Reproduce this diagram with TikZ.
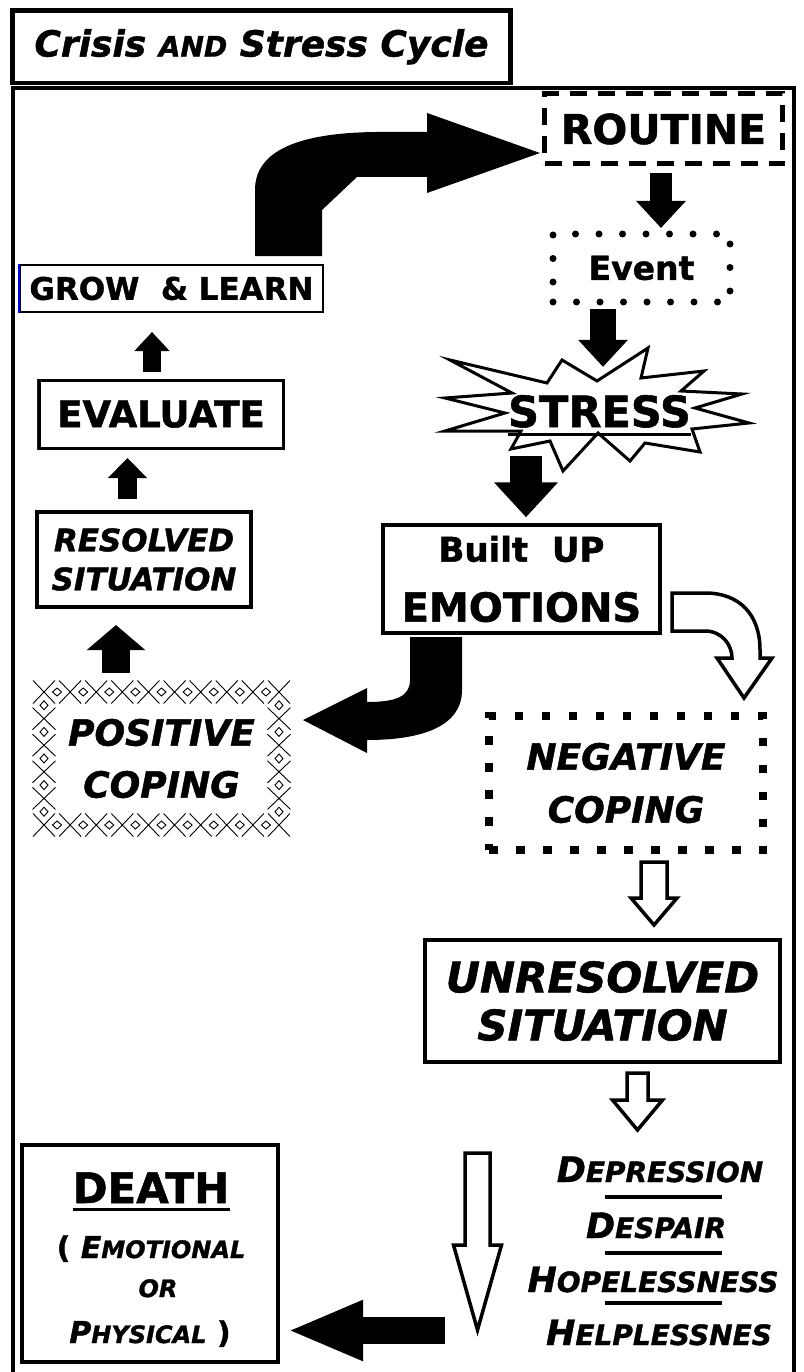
\documentclass[tikz,border=0pt]{standalone}
\usepackage{fontspec}
\setmainfont{DejaVu Sans}[BoldFont={DejaVu Sans Bold},ItalicFont={DejaVu Sans Oblique},
  BoldItalicFont={DejaVu Sans Bold Oblique},BoldFeatures={FakeBold=1.3},
  BoldItalicFeatures={FakeBold=1.3}]
\usepackage{graphicx}
\usetikzlibrary{arrows.meta}

\newcommand{\fsz}[2]{\fontsize{#1}{#2}\selectfont}
\newcommand{\sml}[1]{\scalebox{0.8}{#1}}
% hollow block arrow pointing down: x, top, half shaft, head base, half head, tip
\newcommand{\hollowdown}[6]{%
  \draw[hollow] (#1-#3,#2) -- (#1+#3,#2) -- (#1+#3,#4) -- (#1+#5,#4)
    -- (#1,#6) -- (#1-#5,#4) -- (#1-#3,#4) -- cycle;}

\begin{document}
\begin{tikzpicture}[%
  x=1pt, y=-1pt,
  stage/.style={draw, line width=#1, inner sep=0pt, font=\bfseries},
  itstage/.style={stage=#1, font=\bfseries\itshape},
  txt/.style={inner sep=0pt, anchor=base, font=\bfseries},
  blk/.style n args={3}{line width=#1, -{Triangle[width=#2, length=#3]}},
  hollow/.style={draw, fill=white, line width=3.5pt, line join=miter},
  hatch/.style={line width=0.9pt}]
\useasboundingbox (0,0) rectangle (803,1372);

% frames
\draw[line width=4pt] (13,88) rectangle (794,1378);
\node[stage=4.5pt, minimum width=498pt, minimum height=72.5pt,
  font=\bfseries\itshape\fsz{36}{36}] (title) at (261.5,46.75)
  {Crisis \scalebox{0.78}{AND} Stress Cycle};

% right hand column
\node[stage=5pt, dash pattern=on 17pt off 11pt, minimum width=238pt,
  minimum height=70pt, font=\bfseries\fsz{41}{41}] (routine) at (663.5,129) {ROUTINE};
\node[stage=7pt, line cap=round, dash pattern=on 0pt off 23.5pt, minimum width=177pt,
  minimum height=68pt, font=\bfseries\fsz{33}{33}] (event) at (641.5,268) {Event};

\draw[line width=3pt, fill=white, line join=miter] (450,360) -- (547,383) -- (562,360) -- (597,381)
  -- (648,348) -- (641,378) -- (704,371) -- (681,391) -- (742,394) -- (695,408)
  -- (749,423) -- (692,429) -- (700,452) -- (645,443) -- (630,461) -- (598,433)
  -- (563,471) -- (550,441) -- (511,449) -- (521,431) -- (445,431) -- (505,413)
  -- (445,398) -- (512,393) -- cycle;
\node[txt, font=\bfseries\fsz{43}{43}] (stress) at (599.5,427) {STRESS};
\draw[line width=3pt] ([yshift=-7pt]stress.base west) -- ([yshift=-7pt]stress.base east);

\node[stage=3.5pt, minimum width=277pt, minimum height=108pt, align=center,
  font=\bfseries\fsz{34}{60}] (emo) at (521.5,579) {Built~~UP\\\fsz{40}{60}EMOTIONS};
\node[itstage=8.5pt, dash pattern=on 8.5pt off 18.5pt, minimum width=274pt,
  minimum height=134pt, align=center, font=\bfseries\itshape\fsz{36}{53}] (neg)
  at (626,783) {NEGATIVE\\COPING};
\node[itstage=4.5pt, minimum width=355pt, minimum height=122pt, align=center,
  font=\bfseries\itshape\fsz{42}{48}] (unres) at (602.5,1001) {UNRESOLVED\\SITUATION};

% left hand column
\node[stage=2.5pt, minimum width=303pt, minimum height=47pt,
  font=\bfseries\fsz{31}{31}] (grow) at (171.5,288.5) {GROW~~\&~LEARN};
\node[stage=3pt, minimum width=244pt, minimum height=68pt,
  font=\bfseries\fsz{37}{37}] (eval) at (161,414) {EVALUATE};
\draw[blue, line width=1.5pt] (grow.north west) -- (grow.south west);
\draw[blue, line width=1.5pt] (eval.north west) -- (eval.south west);
\node[itstage=4pt, minimum width=214pt, minimum height=95pt, align=center,
  font=\bfseries\itshape\fsz{31}{39}] (res) at (144,559.5) {RESOLVED\\SITUATION};
\node[inner sep=0pt, minimum width=235pt, minimum height=133pt, align=center,
  font=\bfseries\itshape\fsz{36}{52}] (pos) at (161.5,758.5) {POSITIVE\\COPING};

% crosshatch border
\foreach \i in {0,...,9}{
  \pgfmathsetmacro\hx{44+26.11*\i}
  \foreach \hy in {692,825}
    \draw[hatch] (\hx-11,\hy-11.5) -- (\hx+11,\hy+11.5) (\hx-11,\hy+11.5) -- (\hx+11,\hy-11.5);
}
\foreach \i in {0,...,8}{
  \pgfmathsetmacro\hx{44+26.11*(\i+0.5)}
  \foreach \hy in {692,825}
    \draw[hatch] (\hx,\hy-4) -- (\hx+4.5,\hy) -- (\hx,\hy+4) -- (\hx-4.5,\hy) -- cycle;
}
\foreach \i in {1,...,4}{
  \pgfmathsetmacro\hy{692+26.6*\i}
  \foreach \hx in {44,279}
    \draw[hatch] (\hx-11.5,\hy-11) -- (\hx+11.5,\hy+11) (\hx-11.5,\hy+11) -- (\hx+11.5,\hy-11);
}
\foreach \i in {0,...,4}{
  \pgfmathsetmacro\hy{692+26.6*(\i+0.5)}
  \foreach \hx in {44,279}
    \draw[hatch] (\hx,\hy-4.5) -- (\hx+4,\hy) -- (\hx,\hy+4.5) -- (\hx-4,\hy) -- cycle;
}

% death box
\node[stage=4pt, minimum width=256pt, minimum height=217pt] (death) at (150,1253.5) {};
\node[txt, font=\bfseries\fsz{42}{42}] (dword) at (151,1203) {DEATH};
\draw[line width=3pt] ([yshift=-6pt]dword.base west) -- ([yshift=-6pt]dword.base east);
\node[txt, font=\bfseries\fsz{30}{30}] (emot) at (151,1258) {( \textit{E\sml{MOTIONAL}}};
\node[txt, font=\bfseries\itshape\fsz{30}{30}] (orw) at (158,1297) {\sml{OR}};
\node[txt, font=\bfseries\fsz{30}{30}] (phys) at (150,1343) {\textit{P\sml{HYSICAL}} )};

% list of feelings
\node[txt, font=\bfseries\itshape\fsz{35}{35}] (dep) at (660,1182) {D\sml{EPRESSION}};
\node[txt, font=\bfseries\itshape\fsz{35}{35}] (desp) at (656,1238) {D\sml{ESPAIR}};
\node[txt, font=\bfseries\itshape\fsz{35}{35}] (hope) at (653,1292) {H\sml{OPELESSNESS}};
\node[txt, font=\bfseries\itshape\fsz{35}{35}] (help) at (659,1345) {H\sml{ELPLESSNES}};
\foreach \by in {1197,1253,1303}
  \draw[line width=3.5pt] (605,\by) -- (722,\by);

% black arrows
\draw[blk={22pt}{48pt}{27pt}, shorten <=6.5pt, shorten >=2.5pt]
  ([xshift=-2.5pt]routine.south) -- ([xshift=-2.5pt]routine.south |- event.north);
\draw[blk={26pt}{48pt}{27pt}, shorten <=3.5pt, shorten >=28pt]
  ([xshift=-38.5pt]event.south) -- ([xshift=-38.5pt]event.south |- stress.north);
\draw[blk={32pt}{62pt}{35pt}, shorten <=28pt, shorten >=6pt]
  ([xshift=-73.5pt]stress.south) -- ([xshift=-73.5pt]stress.south |- emo.north);
\draw[blk={28pt}{57pt}{25pt}, shorten <=19pt, shorten >=16pt]
  ([xshift=-45.5pt]pos.north) -- ([xshift=-45.5pt]pos.north |- res.south);
\draw[blk={19pt}{38pt}{20pt}, shorten <=11pt, shorten >=8.5pt]
  ([xshift=-16.5pt]res.north) -- ([xshift=-16.5pt]res.north |- eval.south);
\draw[blk={18pt}{34pt}{19pt}, shorten <=6.5pt, shorten >=18.75pt]
  ([xshift=-9pt]eval.north) -- ([xshift=-9pt]eval.north |- grow.south);
\coordinate (dsrc) at (445,1330.5);
\draw[blk={27pt}{55pt}{76pt}, shorten >=7pt] (dsrc) -- (dsrc -| death.east);

% curved arrows
\fill (255,256) -- (255,190) .. controls (255,150) and (300,133) .. (375,132)
  -- (427,132) -- (427,113) -- (540,153) -- (427,193) -- (427,177) -- (357,177)
  -- (322,210) -- (322,256) -- cycle;
\fill (410,637) -- (462,637) -- (462,690) .. controls (462,725) and (425,740) .. (367,740)
  -- (367,753) -- (303,720) -- (367,688) -- (367,702)
  .. controls (395,702) and (410,697) .. (410,680) -- cycle;
\draw[hollow] (672,593) -- (705,593) .. controls (740,593) and (760,615) .. (760,650)
  -- (760,658) -- (772,658) -- (744,698) -- (717,658) -- (732,658)
  .. controls (732,645) and (722,631) .. (705,631) -- (672,631) -- cycle;

% hollow arrows
\hollowdown{654}{862}{13}{898}{23}{925}
\hollowdown{637.5}{1073}{10.5}{1100}{25}{1130}
\hollowdown{477.5}{1153}{12.5}{1245}{24}{1330}
\end{tikzpicture}
\end{document}
